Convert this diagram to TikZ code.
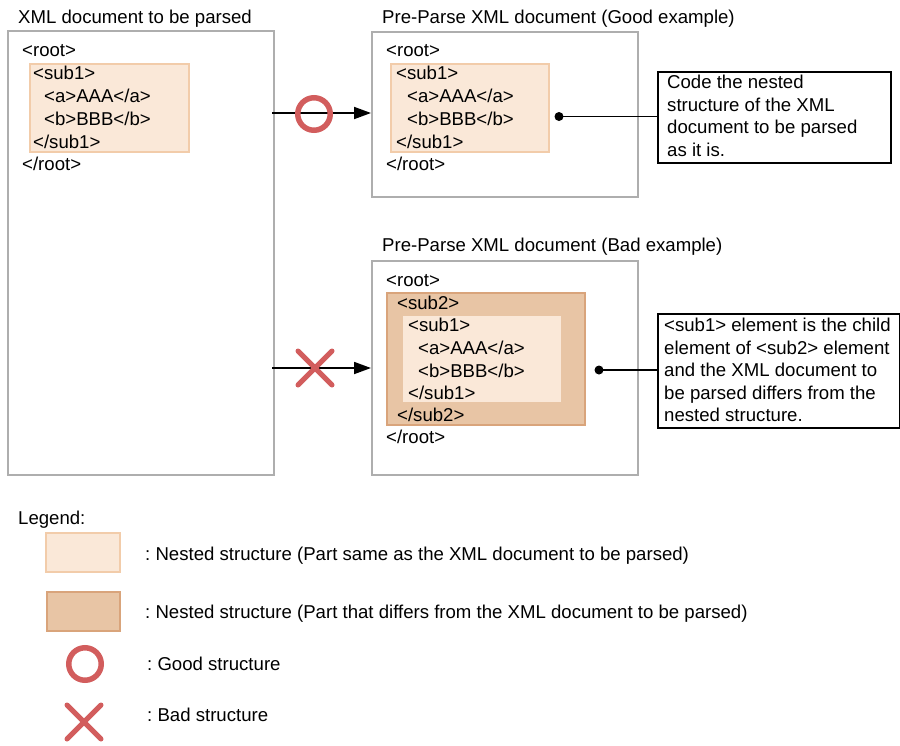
\documentclass[tikz,border=0pt]{standalone}
\usepackage{fontspec}
\setmainfont{Liberation Sans}
\usetikzlibrary{arrows.meta,calc}
\definecolor{framegray}{HTML}{AEAEAE}
\definecolor{lightfill}{HTML}{FAE8D8}
\definecolor{lightdraw}{HTML}{F2CCAA}
\definecolor{darkfill}{HTML}{E8C5A5}
\definecolor{darkdraw}{HTML}{D9A47B}
\definecolor{markred}{HTML}{D25D5D}
\frenchspacing
\tikzset{
  every node/.style={font=\fontsize{18.6}{23}\selectfont},
  txt/.style={anchor=base west, inner sep=0pt},
  frame/.style={draw=framegray, line width=2pt, fill=white, anchor=north west, inner sep=0pt},
  lightbox/.style={draw=lightdraw, fill=lightfill, line width=2pt, anchor=north west, inner sep=0pt},
  darkbox/.style={draw=darkdraw, fill=darkfill, line width=2pt, anchor=north west, inner sep=0pt},
  innerbox/.style={fill=lightfill, anchor=north west, inner sep=0pt},
  callout/.style={draw=black, line width=2pt, fill=white, anchor=north west, inner sep=0pt},
  okmark/.style={circle, draw=markred, line width=5.5pt, minimum size=32.5pt, inner sep=0pt},
  arr/.style={line width=1.8pt, -{Triangle[length=17pt,width=12pt]}},
  lead/.style={line width=1.8pt},
  leaddot/.style={circle, fill=black, minimum size=9pt, inner sep=0pt},
  ngmark/.style={line width=5pt, draw=markred, line cap=round},
}
\begin{document}
\begin{tikzpicture}[x=1pt,y=-1pt]
\useasboundingbox (0,0) rectangle (900,745);
\fill[white] (0,0) rectangle (900,745);

% Left: XML document to be parsed
\node[txt] (t0) at (18,23) {XML document to be parsed};
\node[frame, minimum width=266pt, minimum height=444pt] (src) at (7,30) {};
\node[txt] (s0) at (22,56.5) {<root>};
\node[lightbox, minimum width=159pt, minimum height=88pt] (ssub) at (29,63) {};
\node[txt] (s1) at (33,79.5) {<sub1>};
\node[txt] (s2) at (44,102.5) {<a>AAA</a>};
\node[txt] (s3) at (44,125.5) {<b>BBB</b>};
\node[txt] (s4) at (33,148.5) {</sub1>};
\node[txt] (s5) at (22,170.5) {</root>};

% Good example
\node[txt] (t1) at (382,23) {Pre-Parse XML document (Good example)};
\node[frame, minimum width=266pt, minimum height=165pt] (good) at (371,31) {};
\node[txt] (g0) at (386,56.5) {<root>};
\node[lightbox, minimum width=158pt, minimum height=88pt] (gsub) at (390,63) {};
\node[txt] (g1) at (396,79.5) {<sub1>};
\node[txt] (g2) at (407,102.5) {<a>AAA</a>};
\node[txt] (g3) at (407,125.5) {<b>BBB</b>};
\node[txt] (g4) at (396,148.5) {</sub1>};
\node[txt] (g5) at (386,170.5) {</root>};

% Bad example
\node[txt] (t2) at (382,251) {Pre-Parse XML document (Bad example)};
\node[frame, minimum width=266pt, minimum height=214pt] (bad) at (371,260) {};
\node[txt] (b0) at (386,286.5) {<root>};
\node[darkbox, minimum width=198pt, minimum height=132pt] (bsub2) at (386,292) {};
\node[innerbox, minimum width=158pt, minimum height=86pt] (bsub1) at (403,316) {};
\node[txt] (b1) at (397,309.5) {<sub2>};
\node[txt] (b2) at (408,331.5) {<sub1>};
\node[txt] (b3) at (418,354.5) {<a>AAA</a>};
\node[txt] (b4) at (418,377.5) {<b>BBB</b>};
\node[txt] (b5) at (408,399.5) {</sub1>};
\node[txt] (b6) at (397,421.5) {</sub2>};
\node[txt] (b7) at (386,443.5) {</root>};

% Arrows
\coordinate (a1s) at (272,113);
\coordinate (a1e) at (371,113);
\draw[arr] (a1s) -- (a1e);
\node[okmark] (ok1) at (314,114) {};
\coordinate (a2s) at (272,368);
\coordinate (a2e) at (371,368);
\draw[arr] (a2s) -- (a2e);
\coordinate (ng1c) at (315,368);
\draw[ngmark] ($(ng1c)+(-17,-17)$) -- ($(ng1c)+(17,17)$);
\draw[ngmark] ($(ng1c)+(-17,17)$) -- ($(ng1c)+(17,-17)$);

% Callouts
\node[callout, minimum width=233pt, minimum height=91pt] (c1) at (657,71) {};
\node[txt] (c1a) at (667,88.5) {Code the nested};
\node[txt] (c1b) at (667,111) {structure of the XML};
\node[txt] (c1c) at (667,133.5) {document to be parsed};
\node[txt] (c1d) at (667,156) {as it is.};
\node[leaddot] (d1) at (559,116.5) {};
\draw[lead] (d1.center) -- (d1.center -| c1.west);

\node[callout, minimum width=242pt, minimum height=114pt] (c2) at (657,313) {};
\node[txt] (c2a) at (664,331.5) {<sub1> element is the child};
\node[txt] (c2b) at (664,354) {element of <sub2> element};
\node[txt] (c2c) at (664,376.5) {and the XML document to};
\node[txt] (c2d) at (664,399) {be parsed differs from the};
\node[txt] (c2e) at (664,421.5) {nested structure.};
\node[leaddot] (d2) at (599,370) {};
\draw[lead] (d2.center) -- (d2.center -| c2.west);

% Legend
\node[txt] (lg) at (18,524) {Legend:};
\node[lightbox, minimum width=74pt, minimum height=39pt] (lg1) at (45,532) {};
\node[txt] (lg1t) at (145,560.5) {: Nested structure (Part same as the XML document to be parsed)};
\node[darkbox, minimum width=73pt, minimum height=39pt] (lg2) at (46,591) {};
\node[txt] (lg2t) at (145,618.5) {: Nested structure (Part that differs from the XML document to be parsed)};
\node[okmark] (lg3) at (85,664) {};
\node[txt] (lg3t) at (147,670.5) {: Good structure};
\coordinate (lg4c) at (84,722);
\draw[ngmark] ($(lg4c)+(-17,-17)$) -- ($(lg4c)+(17,17)$);
\draw[ngmark] ($(lg4c)+(-17,17)$) -- ($(lg4c)+(17,-17)$);
\node[txt] (lg4t) at (147,721.5) {: Bad structure};
\end{tikzpicture}
\end{document}
